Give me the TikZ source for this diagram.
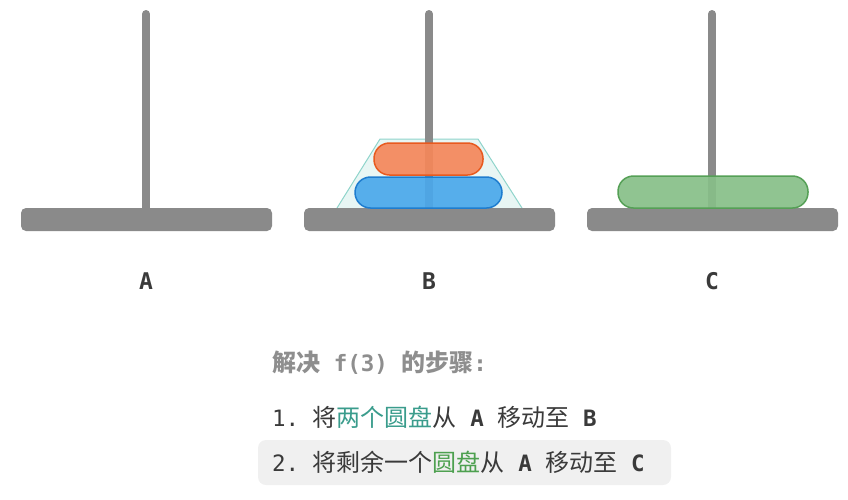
\documentclass[tikz,border=0pt]{standalone}
\usepackage{fontspec}
\setmonofont{DejaVu Sans Mono}
\newfontfamily\cjk{Noto Sans CJK SC}
\usetikzlibrary{positioning}

\definecolor{pegGray}{HTML}{8A8A8A}
\definecolor{inkGray}{HTML}{3A3A3A}
\definecolor{titleGray}{HTML}{8E8E8E}
\definecolor{rowGray}{HTML}{F0F0F0}
\definecolor{orangeFill}{HTML}{F5875A}
\definecolor{orangeLine}{HTML}{E85A1F}
\definecolor{blueFill}{HTML}{4AA8EB}
\definecolor{blueLine}{HTML}{1E7DCF}
\definecolor{greenFill}{HTML}{87BF88}
\definecolor{greenLine}{HTML}{55A056}
\definecolor{trayFill}{HTML}{E8F6F4}
\definecolor{trayLine}{HTML}{8FD4CB}
\definecolor{tealText}{HTML}{3A9C8C}
\definecolor{greenText}{HTML}{4DA04F}

\newcommand{\lat}[1]{{\ttfamily\fontsize{22.5}{26}\selectfont #1}}

\begin{document}
\begin{tikzpicture}[x=1pt,y=-1pt,
  rod/.style={pegGray,line width=8pt,line cap=round},
  plate/.style={fill=pegGray,rounded corners=5pt},
  disk/.style={rectangle,rounded corners=15.5pt,line width=1.5pt,inner sep=0pt,fill opacity=.92},
  peglabel/.style={text=inkGray,font=\ttfamily\bfseries\fontsize{23}{26}\selectfont},
  stepline/.style={anchor=west,inner sep=0pt,text=inkGray,font=\cjk\fontsize{24}{28}\selectfont}]

\useasboundingbox (0,0) rectangle (848,499);

% tray round the two disks on B
\draw[trayLine,fill=trayFill,line width=1pt] (337,208) -- (380,139) -- (478,139) -- (522,208);

\foreach \p/\x in {A/146,B/429,C/712}{
  \coordinate (top\p) at (\x,14);
  \coordinate (foot\p) at (\x,210);
  \draw[rod] (top\p) -- (foot\p);
  \fill[plate] (\x-125,208) rectangle (\x+126,231);
  \node[peglabel] (lab\p) at (\x,281) {\p};
}

\node[disk,fill=orangeFill,draw=orangeLine,minimum width=109pt,minimum height=32pt] (small) at (428.5,159) {};
\node[disk,fill=blueFill,draw=blueLine,minimum width=147pt,minimum height=31pt] (middle) at (428.5,192.5) {};
\node[disk,fill=greenFill,draw=greenLine,minimum width=190pt,minimum height=32pt] (large) at (713,192) {};

% steps
\fill[rowGray,rounded corners=8pt] (258,440) rectangle (671,485);
\node[stepline,text=titleGray,font=\cjk\bfseries\fontsize{24}{28}\selectfont] (title) at (272,363)
  {解决\lat{\bfseries\ f(3)\ }的步骤\lat{\bfseries :}};
\node[stepline] (step1) at (272,417)
  {\lat{1.\ }将\textcolor{tealText}{两个圆盘}从\lat{\ \textbf{A}\ }移动至\lat{\ \textbf{B}}};
\node[stepline] (step2) at (272,462.5)
  {\lat{2.\ }将剩余一个\textcolor{greenText}{圆盘}从\lat{\ \textbf{A}\ }移动至\lat{\ \textbf{C}}};

\end{tikzpicture}
\end{document}
